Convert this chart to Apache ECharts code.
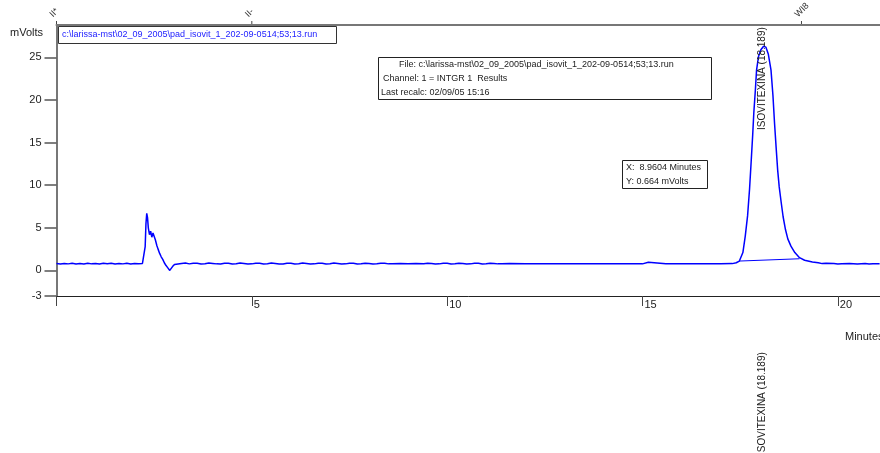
<!DOCTYPE html>
<html><head><meta charset="utf-8">
<script src="https://cdn.jsdelivr.net/npm/echarts@6/dist/echarts.min.js"></script>
<style>html,body{margin:0;padding:0;background:#fff}#c{width:880px;height:453px}</style>
</head><body><div id="c"></div>
<script>
// ---- data (time in minutes, signal in mVolts) ----
const signal = [
[0.0,0.8],[0.05,0.76],[0.1,0.75],[0.15,0.85],[0.2,0.82],[0.3,0.77],[0.35,0.86],[0.4,0.84],[0.5,0.75],[0.55,0.84],[0.6,0.8],[0.7,0.76],[0.75,0.85],[0.8,0.84],[0.9,0.77],
[0.95,0.85],[1.0,0.81],[1.1,0.75],[1.15,0.85],[1.2,0.83],[1.3,0.78],[1.35,0.86],[1.4,0.85],[1.5,0.76],[1.55,0.85],[1.6,0.82],[1.7,0.77],[1.75,0.86],[1.8,0.84],[1.9,0.75],
[1.95,0.85],[2.0,0.81],[2.1,0.78],[2.15,0.85],[2.2,0.82],[2.25,0.79],
[2.26,0.8],[2.27,2.8],[2.29,5.5],[2.31,6.7],[2.33,6.2],[2.35,5.0],[2.38,4.2],[2.41,4.6],[2.44,3.9],[2.47,4.4],
[2.50,4.3],[2.53,3.6],[2.57,2.9],[2.60,2.5],[2.64,2.0],[2.68,1.6],[2.72,1.3],[2.76,0.9],[2.80,0.6],[2.85,0.3],
[2.90,0.0],[2.93,0.15],[2.97,0.45],[3.02,0.7],[3.06,0.8],
[3.2,0.81],[3.3,0.86],[3.4,0.77],[3.5,0.85],[3.6,0.83],[3.7,0.76],[3.8,0.78],[3.9,0.86],[4.0,0.82],[4.1,0.77],[4.2,0.76],[4.3,0.85],[4.4,0.84],[4.5,0.76],[4.6,0.78],[4.7,0.86],[4.8,0.81],[4.9,0.75],[5.0,0.77],
[5.1,0.85],[5.2,0.83],[5.3,0.76],[5.4,0.79],[5.5,0.86],[5.6,0.82],[5.7,0.76],[5.8,0.76],[5.9,0.85],[6.0,0.83],[6.1,0.76],[6.2,0.78],[6.3,0.86],[6.4,0.81],[6.5,0.75],[6.6,0.77],[6.7,0.85],[6.8,0.84],[6.9,0.76],[7.0,0.79],
[7.1,0.86],[7.2,0.82],[7.3,0.76],[7.4,0.77],[7.5,0.85],[7.6,0.83],[7.7,0.76],[7.8,0.78],[7.9,0.85],[8.0,0.81],[8.1,0.76],[8.2,0.79],[8.3,0.85],[8.4,0.83],[8.5,0.77],[8.6,0.78],[8.8,0.8],[9.0,0.79],
[9.2,0.8],[9.4,0.78],[9.5,0.85],[9.6,0.82],[9.7,0.76],[9.8,0.77],[9.9,0.85],[10.0,0.83],[10.1,0.76],[10.2,0.78],[10.3,0.85],[10.4,0.82],[10.5,0.76],[10.6,0.77],[10.7,0.85],[10.8,0.83],[10.9,0.76],[11.0,0.78],
[11.1,0.85],[11.2,0.82],[11.3,0.77],[11.4,0.79],[11.6,0.8],[12.0,0.78],[12.5,0.78],[12.9,0.77],[12.95,0.55],[13.0,0.77],[13.5,0.77],[14.0,0.77],
[14.5,0.77],[15.0,0.77],[15.15,0.95],[15.2,0.77],[15.6,0.78],[16.0,0.78],[16.5,0.78],[17.0,0.78],[17.3,0.8],[17.4,0.9],
[17.48,1.1],[17.57,2.1],[17.63,4.0],[17.69,6.4],[17.74,9.5],[17.78,12.6],[17.82,15.8],[17.85,18.5],[17.89,21.2],[17.92,23.5],
[17.97,25.1],[18.03,25.9],[18.10,26.3],[18.16,26.2],[18.22,25.4],[18.29,23.5],[18.34,20.5],[18.38,17.3],[18.42,14.5],[18.46,11.8],
[18.50,9.8],[18.55,8.0],[18.60,6.3],[18.66,4.8],[18.72,3.7],[18.80,2.85],[18.90,2.1],[19.02,1.5],[19.15,1.2],[19.35,1.0],
[19.5,0.9],[19.6,0.8],[19.7,0.84],[19.9,0.8],[20.0,0.75],[20.1,0.78],[20.3,0.82],[20.5,0.76],[20.7,0.8],[20.8,0.75],[20.9,0.77],[21.07,0.78]
];
const integrationBaseline = [[17.48,1.1],[19.02,1.37]];
const yTickValues = [-3,0,5,10,15,20,25];
const xTickInterval = 5;
const eventTimes = [0, 5.0, 19.07];
const eventLabels = ['II*','II-','WI8'];
const peakTime = 18.189;
const peakName = 'ISOVITEXINA';
const fileName = 'c:\\larissa-mst\\02_09_2005\\pad_isovit_1_202-09-0514;53;13.run';
const infoLines = ['File: ' + fileName, 'Channel: 1 = INTGR 1  Results', 'Last recalc: 02/09/05 15:16'];
const cursorLines = ['X:  8.9604 Minutes', 'Y: 0.664 mVolts'];

const FONT = '"Liberation Sans", Arial, sans-serif';
const chart = echarts.init(document.getElementById('c'), null, {renderer:'canvas'});
const option = {
  animation:false,
  backgroundColor:'#fff',
  grid:{left:56.5, right:0, top:25, bottom:157, containLabel:false, outerBoundsMode:'none'},
  xAxis:[{
    type:'value', min:0, max:21.08, interval:xTickInterval, position:'bottom',
    axisLine:{show:true, onZero:false, lineStyle:{color:'#222', width:1}},
    axisTick:{show:true, length:10, lineStyle:{color:'#444', width:1}},
    axisLabel:{show:true, margin:3, align:'left', padding:[0,0,0,2], color:'#222', fontSize:11, fontFamily:FONT,
      showMaxLabel:false, formatter:v => (v===0 ? '' : String(v))},
    splitLine:{show:false}
  },{
    type:'value', min:0, max:21.08, position:'top',
    axisLine:{show:true, onZero:false, lineStyle:{color:'#777', width:2}},
    axisTick:{show:false}, axisLabel:{show:false}, splitLine:{show:false}
  }],
  yAxis:{
    type:'value', min:-3, max:28.8,
    axisLine:{show:true, onZero:false, lineStyle:{color:'#777', width:2}},
    axisTick:{show:true, length:12, customValues:yTickValues, lineStyle:{color:'#555', width:1.5}},
    axisLabel:{show:true, customValues:yTickValues, margin:15, color:'#222', fontSize:11, fontFamily:FONT},
    splitLine:{show:false}
  },
  series:[
    {type:'line', data:signal, showSymbol:false, symbol:'none', lineStyle:{color:'#0000ff', width:1.5}, z:3},
    {type:'line', data:integrationBaseline, showSymbol:false, symbol:'none', lineStyle:{color:'#0000ff', width:1}, z:3}
  ]
};
chart.setOption(option);

const px = t => chart.convertToPixel({xAxisIndex:0}, t);
const g = [];
// axis names
g.push({type:'text', left:10, top:27, style:{text:'mVolts', fontSize:11, fontFamily:FONT, fill:'#222'}});
g.push({type:'text', left:845, top:331, style:{text:'Minutes', fontSize:11, fontFamily:FONT, fill:'#222'}});
// file name box
g.push({type:'rect', shape:{x:58.5, y:26.5, width:278, height:17}, style:{fill:'#fff', stroke:'#333', lineWidth:1}, z:10});
g.push({type:'text', x:62, y:35, style:{text:fileName, fontSize:9, fontFamily:FONT, fill:'#2222ff', verticalAlign:'middle'}, z:11});
// info box
g.push({type:'rect', shape:{x:378.5, y:57.5, width:333, height:42}, style:{fill:'#fff', stroke:'#222', lineWidth:1}, z:10});
const infoX = [399, 383, 381];
infoLines.forEach((s,i)=>g.push({type:'text', x:infoX[i], y:65+i*14, style:{text:s, fontSize:9, fontFamily:FONT, fill:'#222', verticalAlign:'middle'}, z:11}));
// cursor box
g.push({type:'rect', shape:{x:622.5, y:160.5, width:85, height:28}, style:{fill:'#fff', stroke:'#222', lineWidth:1}, z:10});
cursorLines.forEach((s,i)=>g.push({type:'text', x:626, y:168+i*14, style:{text:s, fontSize:9, fontFamily:FONT, fill:'#222', verticalAlign:'middle'}, z:11}));
// event markers at top
eventTimes.forEach((t,i)=>{
  const x = px(t);
  g.push({type:'line', shape:{x1:x, y1:21, x2:x, y2:24}, style:{stroke:'#444', lineWidth:1}, z:10});
  g.push({type:'text', x:x-2, y:19, rotation:Math.PI/4, style:{text:eventLabels[i], fontSize:9, fontFamily:FONT, fill:'#333', align:'left', verticalAlign:'bottom'}, z:10});
});
// peak annotations
const pkx = px(peakTime) - 5;
const pkLabel = peakName + ' (' + peakTime.toFixed(3) + ')';
g.push({type:'text', x:pkx, y:130, rotation:Math.PI/2, style:{text:pkLabel, fontSize:10, fontFamily:FONT, fill:'#222', align:'left', verticalAlign:'middle'}, z:10});
g.push({type:'text', x:pkx, y:455, rotation:Math.PI/2, style:{text:pkLabel, fontSize:10, fontFamily:FONT, fill:'#222', align:'left', verticalAlign:'middle'}, z:10});
chart.setOption({graphic:g});
</script>
</body></html>
